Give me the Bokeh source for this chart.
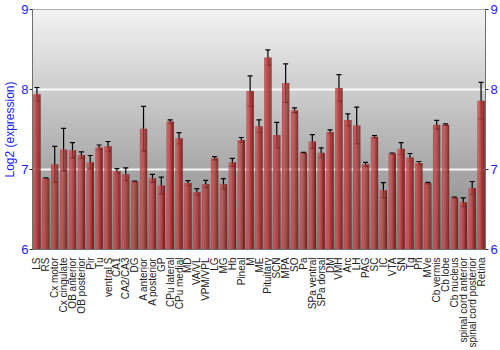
import numpy as np
from bokeh.plotting import figure
from bokeh.models import ColumnDataSource, Whisker, TeeHead, LinearAxis, FixedTicker, Range1d
from bokeh.transform import dodge
from bokeh.embed import file_html
from bokeh.resources import INLINE

categories = ["LS", "RS", "Cx motor", "Cx cingulate", "OB anterior", "OB posterior", "Pir", "Tu",
              "ventral S", "CA1", "CA2/CA3", "DG", "A anterior", "A posterior", "GP", "CPu lateral",
              "CPu medial", "MD", "VA/VL", "VPM/VPL", "LG", "MG", "Hb", "Pineal", "M", "ME",
              "Pituitary", "SCN", "MPA", "SO", "Pa", "SPa ventral", "SPa dorsal", "DM", "VMH", "Arc",
              "LH", "PAG", "SC", "IC", "VTA", "SN", "Tg", "Pn", "MVe", "Cb vermis", "Cb lobe",
              "Cb nucleus", "spinal cord anterior", "spinal cord posterior", "Retina"]
values = [7.94, 6.89, 7.065, 7.25, 7.24, 7.18, 7.09, 7.276, 7.29, 6.98, 6.94, 6.85, 7.51, 6.89,
          6.80, 7.60, 7.39, 6.83, 6.72, 6.82, 7.14, 6.82, 7.09, 7.37, 7.98, 7.54, 8.40, 7.43,
          8.08, 7.74, 7.21, 7.35, 7.21, 7.47, 8.02, 7.62, 7.55, 7.065, 7.41, 6.74, 7.20, 7.26,
          7.15, 7.08, 6.83, 7.56, 7.56, 6.65, 6.59, 6.77, 7.86]
errors = [0.085, 0.005, 0.225, 0.265, 0.095, 0.04, 0.085, 0.03, 0.06, 0.03, 0.08, 0.005, 0.28,
          0.05, 0.105, 0.02, 0.07, 0.03, 0.04, 0.045, 0.02, 0.065, 0.05, 0.03, 0.19, 0.08, 0.095,
          0.16, 0.24, 0.03, 0.005, 0.085, 0.06, 0.025, 0.165, 0.075, 0.23, 0.025, 0.015, 0.095,
          0.005, 0.075, 0.05, 0.02, 0.01, 0.055, 0.01, 0.005, 0.055, 0.08, 0.23]
y_ticks = [6, 7, 8, 9]

BLUE = "#1a1aff"
FONT = "Liberation Sans"

p = figure(x_range=categories, y_range=Range1d(6, 9), width=500, height=350,
           output_backend="svg", toolbar_location=None,
           min_border_left=0, min_border_right=0, min_border_top=9, min_border_bottom=0)
p.background_fill_color = "white"
p.border_fill_color = "white"
p.outline_line_color = "#707070"
p.outline_line_width = 1

# vertical grey gradient background of the plot area
n_strip = 120
edges = np.linspace(6, 9, n_strip + 1)
fr = np.linspace(0, 1, n_strip)
g = (128 + (242 - 128) * (fr + 0.5 / n_strip)).astype(int)
bg_colors = ["#%02x%02x%02x" % (v, v, v) for v in g]
p.quad(left=0, right=len(categories), bottom=edges[:-1], top=edges[1:],
       fill_color=bg_colors, line_color=bg_colors, line_width=0.6, level="image")

# bars with horizontal cylinder shading
src = ColumnDataSource(dict(cat=categories, val=values,
                            upper=[v + e for v, e in zip(values, errors)],
                            lower=[v - e for v, e in zip(values, errors)]))
shades = ["#b84a4a", "#c65252", "#c44c4c", "#bb4242", "#ad3838", "#9c2e2e", "#892424", "#761a1a"]
bw = 0.82
sw = bw / len(shades)
for k, c in enumerate(shades):
    off = -bw / 2 + sw * (k + 0.5)
    p.vbar(x=dodge("cat", off, range=p.x_range), top="val", bottom=6, width=sw * 1.05,
           source=src, fill_color=c, line_color=None)

p.add_layout(Whisker(base="cat", upper="upper", lower="lower", source=src,
                     line_color="black", line_width=1.2,
                     upper_head=TeeHead(size=5, line_color="black", line_width=1.2),
                     lower_head=TeeHead(size=5, line_color="black", line_width=1.2)))

# grid
p.xgrid.grid_line_color = None
p.ygrid.ticker = FixedTicker(ticks=[7, 8])
p.ygrid.grid_line_color = "white"
p.ygrid.grid_line_width = 2
p.ygrid.grid_line_alpha = 0.9

# left axis
ya = p.yaxis[0]
ya.ticker = FixedTicker(ticks=y_ticks)
ya.axis_label = "Log2 (expression)"
ya.axis_label_text_color = BLUE
ya.axis_label_text_font = FONT
ya.axis_label_text_font_size = "12px"
ya.axis_label_text_font_style = "normal"
ya.axis_label_standoff = 1
ya.major_label_text_color = BLUE
ya.major_label_text_font = FONT
ya.major_label_text_font_size = "13px"
ya.major_label_standoff = 1
ya.major_tick_out = 3
ya.major_tick_in = 0
ya.minor_tick_line_color = None
ya.axis_line_color = "#707070"
ya.major_tick_line_color = "#333333"

# right axis
ra = LinearAxis(ticker=FixedTicker(ticks=y_ticks))
ra.major_label_text_color = BLUE
ra.major_label_text_font = FONT
ra.major_label_text_font_size = "13px"
ra.major_label_standoff = 2
ra.major_tick_out = 3
ra.major_tick_in = 0
ra.minor_tick_line_color = None
ra.axis_line_color = "#707070"
ra.major_tick_line_color = "#333333"
p.add_layout(ra, "right")

# bottom axis
xa = p.xaxis[0]
xa.major_label_orientation = np.pi / 2
xa.major_label_text_font = FONT
xa.major_label_text_font_size = "10px"
xa.major_label_text_color = "#222222"
xa.major_label_standoff = 2
xa.major_tick_line_color = None
xa.axis_line_color = "#707070"

open("out.html", "w").write(file_html(p, INLINE))
